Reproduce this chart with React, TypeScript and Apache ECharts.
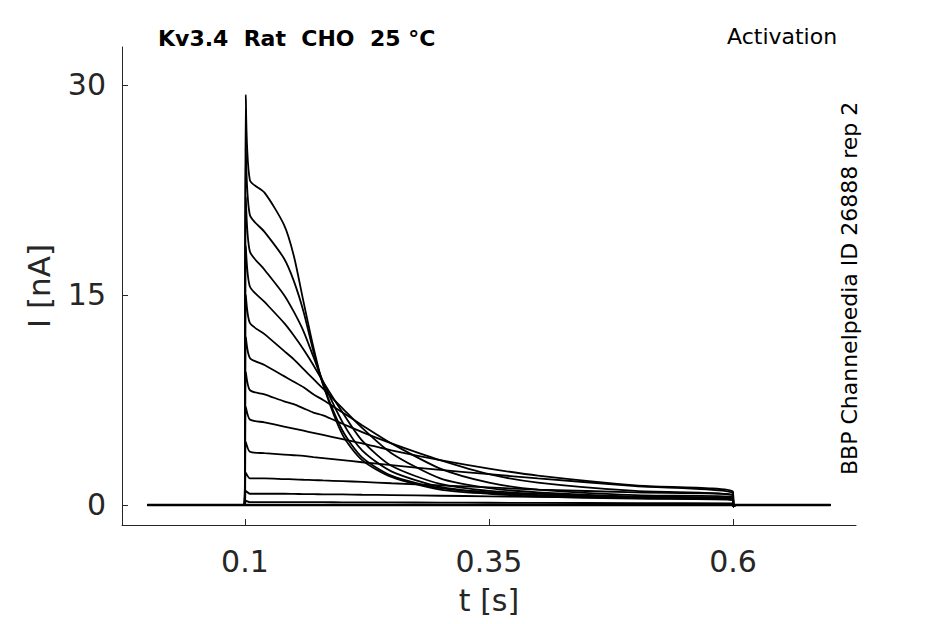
import React, { useEffect, useRef } from "react";
import * as echarts from "echarts";

const times = [0.105, 0.12, 0.14, 0.15, 0.16, 0.17, 0.18, 0.2, 0.22, 0.25, 0.3, 0.35, 0.4, 0.5, 0.6];
const peaks = [29.3, 25.5, 22, 18.5, 15, 12, 9.5, 7, 4.5, 2.3, 1.0, 0.3];
const traceA = [23.2, 22.3, 20.0, 17.8, 14.5, 11.3, 8.6, 5.0, 3.2, 2.0, 1.1, 0.8, 0.6, 0.45, 0.35];
const traceB = [20.7, 19.5, 17.6, 16.0, 13.8, 11.0, 8.6, 5.3, 3.4, 2.1, 1.2, 0.9, 0.7, 0.5, 0.4];
const traceC = [18.1, 16.8, 15.0, 13.8, 12.4, 10.6, 8.8, 5.9, 3.9, 2.4, 1.3, 0.9, 0.7, 0.5, 0.4];
const traceD = [15.6, 14.5, 13.0, 12.1, 11.1, 10.0, 8.8, 6.6, 4.6, 2.8, 1.5, 1.0, 0.8, 0.55, 0.45];
const traceE = [13.0, 12.2, 11.0, 10.4, 9.7, 9.0, 8.3, 6.9, 5.5, 3.7, 1.9, 1.2, 0.9, 0.6, 0.5];
const traceF = [10.5, 10.0, 9.2, 8.8, 8.4, 7.9, 7.5, 6.6, 5.7, 4.4, 2.6, 1.6, 1.1, 0.7, 0.55];
const traceG = [8.2, 7.9, 7.4, 7.2, 6.9, 6.6, 6.4, 5.8, 5.2, 4.4, 3.2, 2.2, 1.6, 1.0, 0.7];
const traceH = [6.1, 5.9, 5.6, 5.45, 5.3, 5.15, 5.0, 4.7, 4.4, 3.9, 3.2, 2.6, 2.1, 1.4, 0.95];
const traceI = [3.8, 3.7, 3.6, 3.55, 3.5, 3.42, 3.35, 3.2, 3.05, 2.85, 2.5, 2.2, 1.9, 1.35, 0.85];
const traceJ = [1.9, 1.9, 1.85, 1.83, 1.8, 1.78, 1.75, 1.7, 1.65, 1.55, 1.4, 1.25, 1.1, 0.9, 0.7];
const traceK = [0.8, 0.8, 0.8, 0.79, 0.78, 0.77, 0.76, 0.75, 0.73, 0.7, 0.66, 0.62, 0.58, 0.52, 0.45];
const traceL = [0.2, 0.2, 0.2, 0.2, 0.2, 0.2, 0.2, 0.19, 0.19, 0.18, 0.17, 0.16, 0.15, 0.13, 0.12];
const traces = [traceA, traceB, traceC, traceD, traceE, traceF, traceG, traceH, traceI, traceJ, traceK, traceL];
const xTicks = [0.1, 0.35, 0.6];
const yTicks = [0, 15, 30];

export default function App() {
  const ref = useRef<HTMLDivElement>(null);
  useEffect(() => {
    const chart = echarts.init(ref.current!, null, { renderer: "svg" });
    const series = traces.map((tr, i) => ({
      type: "line",
      showSymbol: false,
      symbol: "none",
      smooth: 0.25,
      lineStyle: { color: "#000", width: 1.8 },
      data: [[0, 0], [0.0995, 0], [0.1008, peaks[i]], ...times.map((t, j) => [t, tr[j]]), [0.6005, -0.1], [0.603, 0], [0.7, 0]],
    }));
    series.push({
      type: "line", showSymbol: false, symbol: "none", smooth: false,
      lineStyle: { color: "#000", width: 2.6 },
      data: [[0, 0], [0.7, 0]],
    } as any);
    const font = '"DejaVu Sans"';
    chart.setOption({
      animation: false,
      grid: { left: 114, right: 81, top: 39, bottom: 99, outerBoundsMode: "none", containLabel: false },
      xAxis: {
        type: "value", min: -0.026, max: 0.726,
        name: "t [s]", nameLocation: "middle", nameGap: 60,
        nameTextStyle: { fontFamily: "DejaVu Sans", fontSize: 30, color: "#262626" },
        axisLine: { onZero: false, lineStyle: { color: "#262626" } },
        axisTick: { customValues: xTicks, inside: true, length: 6, lineStyle: { color: "#262626" } },
        axisLabel: { customValues: xTicks, fontFamily: "DejaVu Sans", fontSize: 30, color: "#262626", margin: 21 },
        splitLine: { show: false },
      },
      yAxis: {
        type: "value", min: -1.43, max: 32.7,
        name: "I [nA]", nameLocation: "middle", nameGap: 68,
        nameTextStyle: { fontFamily: "DejaVu Sans", fontSize: 31, color: "#262626" },
        axisLine: { show: true, onZero: false, lineStyle: { color: "#262626" } },
        axisTick: { show: true, customValues: yTicks, inside: true, length: 6, lineStyle: { color: "#262626" } },
        axisLabel: { customValues: yTicks, fontFamily: "DejaVu Sans", fontSize: 30, color: "#262626", margin: 16 },
        splitLine: { show: false },
      },
      series,
      graphic: [
        { type: "text", left: 150, top: 19, style: { text: "Kv3.4  Rat  CHO  25 °C", font: `bold 22px ${font}`, fill: "#000" } },
        { type: "text", left: 719, top: 17, style: { text: "Activation", font: `22px ${font}`, fill: "#000" } },
        { type: "text", x: 830, y: 467, rotation: Math.PI / 2, style: { text: "BBP Channelpedia ID 26888 rep 2", font: `22px ${font}`, fill: "#000", textVerticalAlign: "top" } },
      ],
    });
    return () => chart.dispose();
  }, []);
  return <div ref={ref} style={{ width: 929, height: 616 }} />;
}
